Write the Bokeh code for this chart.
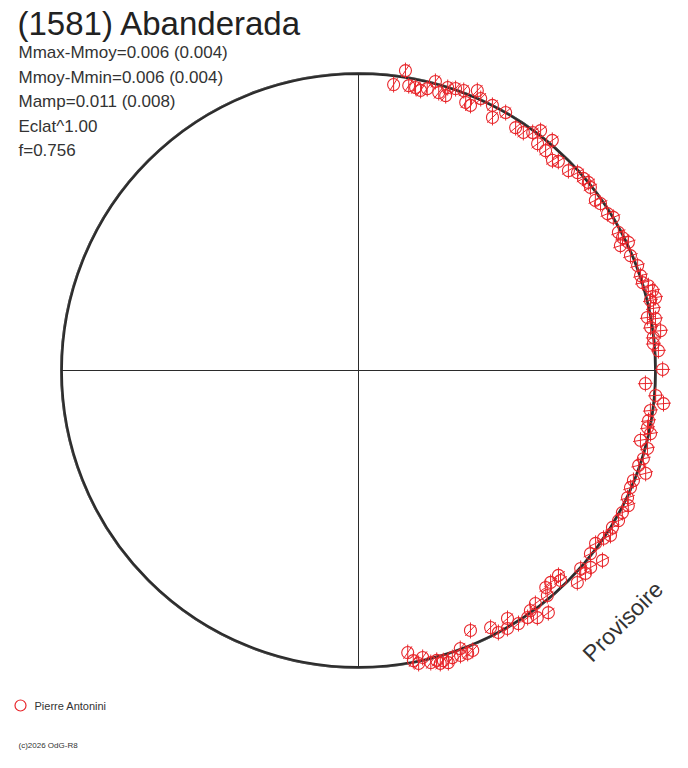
import numpy as np
from bokeh.plotting import figure
from bokeh.models import Label, Range1d, ColumnDataSource
from bokeh.embed import file_html
from bokeh.resources import INLINE

# ---- data -------------------------------------------------------------
title = "(1581) Abanderada"
stats = ["Mmax-Mmoy=0.006 (0.004)", "Mmoy-Mmin=0.006 (0.004)",
         "Mamp=0.011 (0.008)", "Eclat^1.00", "f=0.756"]
observer = "Pierre Antonini"
footer = "(c)2026 OdG-R8"
stamp = "Provisoire"

# phase angle (deg, counter-clockwise from the right) and relative radius
phase_deg = [83.0, 81.1, 80.0, 78.6, 77.5, 76.3, 75.1, 73.9, 72.5, 72.4, 71.0, 69.4,
             68.2, 67.1, 67.0, 65.8, 63.2, 62.1, 60.3, 57.1, 55.3, 53.8, 52.8, 51.7,
             49.9, 49.6, 47.3, 46.3, 43.6, 42.1, 40.5, 39.3, 38.3, 35.7, 34.6, 32.2,
             31.0, 28.0, 26.7, 25.5, 25.4, 22.9, 20.6, 18.6, 17.2, 16.3, 15.2, 13.8,
             13.5, 11.9, 10.4, 9.9, 8.4, 7.5, 6.4, 5.2, 3.8, 0.2, -2.6, -4.8, -6.2,
             -7.8, -9.8, -11.2, -12.2, -13.9, -15.1, -17.2, -18.7, -19.7, -21.8, -23.3,
             -25.3, -26.6, -28.3, -30.0, -31.7, -33.2, -34.4, -36.1, -37.9, -38.3,
             -40.3, -41.7, -41.8, -44.1, -45.7, -46.1, -47.8, -49.2, -50.0, -51.9,
             -52.8, -54.1, -54.4, -55.6, -57.7, -59.0, -60.0, -61.9, -62.8, -66.7,
             -67.8, -68.9, -69.9, -70.3, -71.9, -72.9, -73.7, -74.4, -74.9, -76.1,
             -77.4, -78.4, -79.3, -80.1]
rel_radius = [0.970, 1.022, 0.974, 0.972, 0.966, 0.977, 1.007, 0.974, 0.999, 0.971, 1.004, 1.007,
              0.972, 0.969, 1.024, 1.004, 1.000, 0.964, 1.000, 0.974, 0.975, 0.993, 1.014, 0.973,
              1.013, 0.972, 0.963, 0.974, 0.976, 0.994, 0.996, 1.000, 0.995, 0.982, 0.990, 0.991,
              1.001, 0.991, 0.995, 0.977, 1.006, 0.994, 1.004, 1.002, 1.001, 1.017, 1.026, 1.030,
              1.011, 1.015, 0.989, 1.015, 0.994, 1.026, 0.999, 0.997, 1.012, 1.024, 0.967, 1.004, 1.033,
              0.992, 0.991, 0.992, 1.006, 0.978, 1.008, 1.004, 0.996, 1.027, 0.997, 0.997,
              1.002, 1.016, 1.009, 1.011, 1.005, 1.014, 1.000, 0.988, 1.041, 0.995,
              1.025, 1.002, 1.025, 1.026, 0.964, 0.981, 0.963, 0.965, 0.989, 1.036,
              0.985, 1.027, 0.994, 1.008, 1.008, 0.974, 1.003, 1.000, 0.973, 0.953,
              1.018, 1.021, 0.997, 1.019, 1.017, 1.029, 1.018, 1.024, 1.011, 1.013,
              0.990, 1.007, 0.994, 0.964]

# ---- figure -----------------------------------------------------------
W, H = 672, 752
SCALE = 297.0          # pixels per unit radius
CX, CY = 358, 370      # centre inside the canvas (pixels from top-left)

p = figure(width=W, height=H, output_backend="svg", toolbar_location=None,
           x_axis_type=None, y_axis_type=None, min_border=0,
           x_range=Range1d(-CX / SCALE, (W - CX) / SCALE),
           y_range=Range1d(-(H - CY) / SCALE, CY / SCALE))
p.grid.visible = False
p.outline_line_color = None
p.background_fill_color = "white"
p.border_fill_color = "white"

ink = "#2b2b2b"
red = "#e8262b"

# axes through the centre
p.segment(x0=[-1, 0], y0=[0, -1], x1=[1, 0], y1=[0, 1], line_color=ink, line_width=1)

# model light curve (nearly a circle)
p.circle(x=0, y=0, radius=1.0, fill_color=None, line_color=ink, line_width=2.8)
p.circle(x=0, y=0, radius=1.003, fill_color=None, line_color="#555555", line_width=0.8, line_alpha=0.7)

# observations
th = np.radians(np.array(phase_deg))
rr = np.array(rel_radius)
src = ColumnDataSource(dict(x=rr * np.cos(th), y=rr * np.sin(th),
                            a=np.abs(th) * 0.7))
p.scatter("x", "y", source=src, marker="dash", size=16, angle=np.pi / 2,
          line_color=red, line_width=1)
p.scatter("x", "y", source=src, marker="dash", size=15, angle="a",
          line_color=red, line_width=1)
p.scatter("x", "y", source=src, marker="circle", size=12, fill_color=None,
          line_color=red, line_width=1.1)

font = "Liberation Sans"

def lab(txt, xss, yss, size, **kw):
    p.add_layout(Label(x=xss, y=H - yss, x_units="screen", y_units="screen",
                       text=txt, text_font=font, text_font_size=size,
                       text_color=kw.pop("color", "#222222"),
                       text_baseline=kw.pop("baseline", "middle"), **kw))

lab(title, 17, 23, "33px")
for i, s in enumerate(stats):
    lab(s, 18, 52 + i * 24.6, "17px", color="#333333")

lab(stamp, 586, 657, "23px", color="#333333", baseline="alphabetic",
    angle=45, angle_units="deg")
lab(footer, 18, 745, "8px", color="#333333")

# legend (observer)
p.scatter(x=[(20 - CX) / SCALE], y=[(CY - 705) / SCALE], marker="circle", size=11,
          fill_color=None, line_color=red, line_width=1.2)
lab(observer, 34, 705, "11px", color="#333333")

open("out.html", "w").write(file_html(p, INLINE))
